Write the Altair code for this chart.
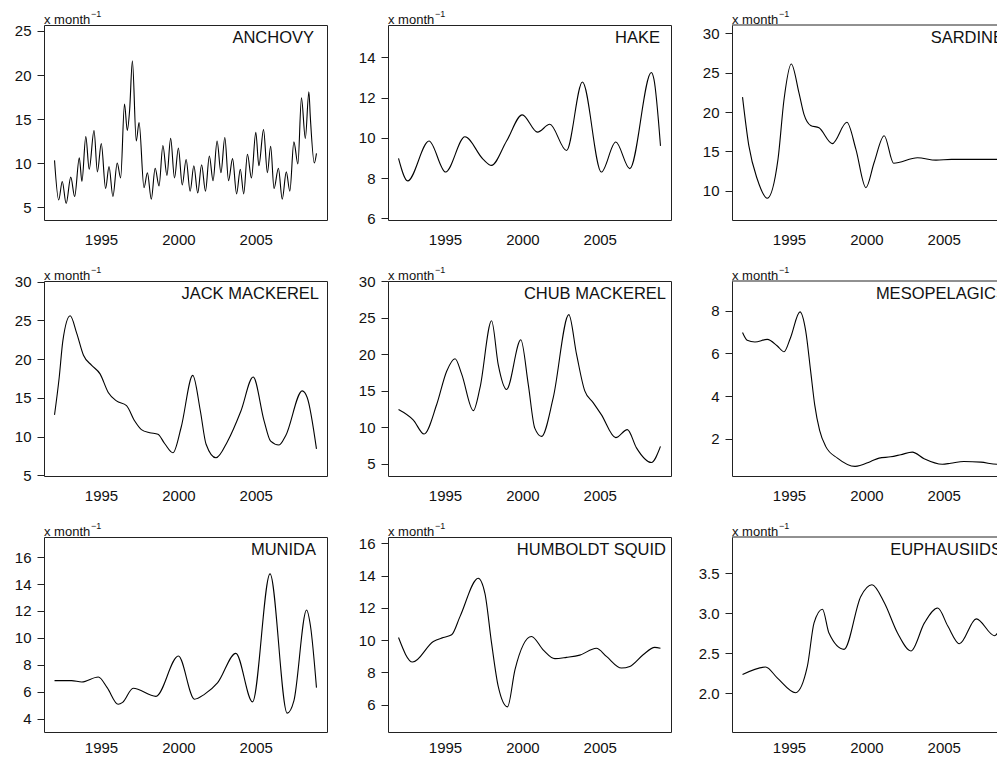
import altair as alt
import pandas as pd

FONT = "Liberation Sans"

# ---------------- data ----------------
anchovy_year = [1992.00, 1992.27, 1992.50, 1992.75, 1993.05, 1993.30, 1993.60, 1993.77, 1994.02, 1994.24,
                1994.55, 1994.77, 1995.02, 1995.30, 1995.52, 1995.77, 1996.05, 1996.27, 1996.52, 1996.70,
                1996.85, 1997.03, 1997.28, 1997.46, 1997.78, 1998.00, 1998.25, 1998.50, 1998.75, 1999.00,
                1999.26, 1999.50, 1999.75, 2000.00, 2000.25, 2000.50, 2000.76, 2001.00, 2001.25, 2001.50,
                2001.75, 2002.00, 2002.24, 2002.50, 2002.75, 2003.00, 2003.24, 2003.50, 2003.76, 2004.00,
                2004.22, 2004.46, 2004.72, 2005.00, 2005.20, 2005.50, 2005.75, 2005.96, 2006.18, 2006.46,
                2006.71, 2006.97, 2007.20, 2007.46, 2007.72, 2007.95, 2008.20, 2008.43, 2008.52, 2008.78,
                2008.92]
anchovy_val = [10.3, 5.8, 7.9, 5.4, 8.4, 6.2, 10.6, 7.9, 13.0, 9.3,
               13.7, 9.0, 12.2, 7.1, 9.6, 6.2, 10.0, 8.3, 16.7, 13.7,
               16.0, 21.6, 12.5, 14.6, 7.2, 8.9, 5.9, 9.4, 7.4, 12.0,
               8.6, 12.8, 8.3, 11.7, 7.5, 10.4, 6.8, 9.7, 6.6, 9.8,
               6.8, 10.8, 8.0, 12.5, 8.9, 12.9, 8.0, 10.5, 6.5, 9.3,
               6.5, 11.0, 8.3, 13.5, 9.7, 13.8, 8.9, 11.9, 7.1, 9.4,
               5.9, 9.0, 6.8, 12.4, 9.9, 17.4, 12.8, 18.1, 15.3, 10.0,
               11.1]

hake_year = [1992.00, 1992.59, 1993.97, 1995.04, 1996.29, 1997.47, 1998.00, 1998.98, 1999.99, 2000.98,
             2001.77, 2002.85, 2003.88, 2005.10, 2006.03, 2006.94, 2008.33, 2008.50, 2008.92]
hake_val = [8.98, 7.86, 9.84, 8.30, 10.05, 8.93, 8.63, 9.84, 11.14, 10.28,
            10.67, 9.37, 12.77, 8.30, 9.79, 8.47, 13.24, 12.90, 9.60]

sardine_year = [1992.00, 1992.41, 1992.95, 1993.60, 1994.29, 1994.68, 1995.15, 1995.65, 1995.97, 1996.40,
                1996.94, 1997.80, 1998.74, 1999.32, 1999.97, 2000.50, 2001.15, 2001.76, 2003.30, 2004.50,
                2005.50, 2008.92]
sardine_val = [21.9, 15.7, 11.5, 9.07, 14.0, 21.6, 26.1, 22.4, 19.7, 18.3,
               18.0, 16.0, 18.7, 15.3, 10.4, 13.6, 17.0, 13.5, 14.2, 13.9,
               14.0, 14.0]

jack_year = [1992.00, 1992.30, 1992.54, 1993.01, 1993.44, 1993.87, 1994.40, 1994.94, 1995.47, 1996.00,
             1996.65, 1997.18, 1997.61, 1998.15, 1998.68, 1999.11, 1999.65, 2000.18, 2000.93, 2001.42,
             2001.79, 2002.43, 2003.18, 2004.04, 2004.83, 2005.54, 2005.96, 2006.50, 2006.93, 2008.00,
             2008.32, 2008.92]
jack_val = [12.8, 17.6, 22.4, 25.6, 23.3, 20.5, 19.2, 18.1, 15.7, 14.6,
            14.0, 12.0, 10.9, 10.5, 10.3, 9.1, 7.9, 11.2, 17.9, 13.3,
            9.0, 7.25, 9.4, 13.3, 17.7, 12.0, 9.4, 8.9, 10.1, 15.9,
            15.05, 8.4]

chub_year = [1992.00, 1992.96, 1993.65, 1994.46, 1995.11, 1995.65, 1996.08, 1996.83, 1997.26, 1998.01,
             1998.44, 1998.98, 1999.90, 2000.38, 2000.80, 2001.24, 2001.99, 2003.00, 2003.50, 2004.03,
             2004.57, 2005.10, 2006.03, 2006.78, 2007.37, 2008.33, 2008.92]
chub_val = [12.45, 11.0, 9.1, 13.1, 17.7, 19.4, 17.3, 12.3, 15.4, 24.6,
            18.6, 15.2, 22.0, 15.9, 9.9, 8.77, 14.05, 25.45, 20.0, 15.0,
            13.4, 11.75, 8.6, 9.7, 7.2, 5.2, 7.4]

meso_year = [1992.00, 1992.30, 1992.80, 1993.60, 1994.25, 1994.68, 1995.10, 1995.71, 1996.08, 1996.40,
             1996.66, 1996.98, 1997.37, 1998.13, 1999.27, 2000.28, 2000.82, 2001.57, 2002.22, 2002.97,
             2003.73, 2004.91, 2005.45, 2006.30, 2007.39, 2008.47, 2008.92]
meso_val = [6.98, 6.62, 6.54, 6.66, 6.35, 6.08, 6.74, 7.95, 7.06, 5.17,
            3.60, 2.39, 1.64, 1.09, 0.70, 0.93, 1.09, 1.15, 1.25, 1.37,
            1.06, 0.80, 0.85, 0.93, 0.90, 0.80, 0.88]

munida_year = [1992.00, 1993.10, 1993.76, 1994.83, 1995.40, 1996.11, 1996.40, 1997.08, 1998.55, 2000.00,
               2001.04, 2001.68, 2002.54, 2003.71, 2004.79, 2005.92, 2007.03, 2007.46, 2008.28, 2008.53,
               2008.92]
munida_val = [6.82, 6.82, 6.72, 7.09, 6.30, 5.06, 5.20, 6.25, 5.65, 8.65,
              5.44, 5.80, 6.67, 8.85, 5.24, 14.76, 4.40, 5.31, 12.07, 10.90,
              6.30]

squid_year = [1992.00, 1992.91, 1994.25, 1994.89, 1995.43, 1995.97, 1997.15, 1997.58, 1998.01, 1998.44,
              1999.04, 1999.52, 2000.59, 2001.34, 2002.10, 2002.85, 2003.71, 2004.78, 2005.43, 2006.40,
              2006.94, 2007.80, 2008.55, 2008.92]
squid_val = [10.16, 8.64, 9.92, 10.16, 10.33, 11.46, 13.84, 12.90, 9.81, 7.13,
             5.86, 8.16, 10.23, 9.40, 8.85, 8.93, 9.07, 9.50, 8.99, 8.27,
             8.37, 9.09, 9.55, 9.50]

euph_year = [1992.00, 1993.49, 1994.24, 1995.43, 1996.19, 1996.62, 1997.16, 1997.59, 1998.56, 1999.64,
             2000.36, 2001.16, 2002.02, 2002.88, 2003.75, 2004.61, 2005.26, 2006.01, 2007.10, 2008.28,
             2008.92]
euph_val = [2.236, 2.33, 2.195, 2.01, 2.34, 2.88, 3.05, 2.75, 2.55, 3.21,
            3.355, 3.13, 2.75, 2.53, 2.88, 3.065, 2.84, 2.62, 2.93, 2.72,
            2.97]

names = ["ANCHOVY", "HAKE", "SARDINE", "JACK MACKEREL", "CHUB MACKEREL", "MESOPELAGICS",
         "MUNIDA", "HUMBOLDT SQUID", "EUPHAUSIIDS"]
series = [(anchovy_year, anchovy_val), (hake_year, hake_val), (sardine_year, sardine_val),
          (jack_year, jack_val), (chub_year, chub_val), (meso_year, meso_val),
          (munida_year, munida_val), (squid_year, squid_val), (euph_year, euph_val)]
y_domains = [[3.53, 25.68], [5.92, 15.6], [6.3, 31.05],
             [4.9, 30.1], [3.35, 30.05], [0.25, 9.4],
             [3.0, 17.5], [4.3, 16.4], [1.52, 3.95]]
y_ticks = [[5, 10, 15, 20, 25], [6, 8, 10, 12, 14], [10, 15, 20, 25, 30],
           [5, 10, 15, 20, 25, 30], [5, 10, 15, 20, 25, 30], [2, 4, 6, 8],
           [4, 6, 8, 10, 12, 14, 16], [6, 8, 10, 12, 14, 16], [2.0, 2.5, 3.0, 3.5]]
y_formats = ["d"] * 8 + [".1f"]
x_ticks = [1995, 2000, 2005]
x_start, x_end = 1991.32, 2009.6

# ---------------- layout / style ----------------
W, H = 283, 195
W_CUT = 273                      # right column is cut by the picture edge
label_inset = [13, 11, 11, 8, 5, 8, 11, 5, 13]
INK = "#111"
EDGE = "#222"


def panel(i):
    name = names[i]
    years, vals = series[i]
    last_col = (i % 3 == 2)
    bottom_row = (i >= 6)
    w = W_CUT if last_col else W
    x_hi = x_start + (x_end - x_start) * w / W
    df = pd.DataFrame({"year": years, "value": vals})
    line = alt.Chart(df).mark_line(color="black", strokeWidth=1.1, interpolate="monotone").encode(
        x=alt.X("year:Q",
                scale=alt.Scale(domain=[x_start, x_hi], nice=False, zero=False),
                axis=alt.Axis(values=x_ticks, format="d", ticks=False, tickSize=0,
                              domain=last_col, domainColor=EDGE,
                              grid=False, labelPadding=8 if bottom_row else 12, title=None)),
        y=alt.Y("value:Q",
                scale=alt.Scale(domain=y_domains[i], nice=False, zero=False),
                axis=alt.Axis(values=y_ticks[i], format=y_formats[i], grid=False,
                              domain=last_col, domainColor=EDGE,
                              tickSize=7, labelPadding=6, title=None)),
    )
    lab = alt.Chart(pd.DataFrame({"t": [name]})).mark_text(
        align="right", baseline="alphabetic", fontSize=16.5, font=FONT, color=INK, clip=True
    ).encode(text="t:N", x=alt.value(W - label_inset[i]), y=alt.value(18))
    unit = alt.Chart(pd.DataFrame({"t": ["x month"]})).mark_text(
        align="left", baseline="alphabetic", fontSize=13, font=FONT, color=INK
    ).encode(text="t:N", x=alt.value(0), y=alt.value(-1))
    sup = alt.Chart(pd.DataFrame({"t": ["\u22121"]})).mark_text(
        align="left", baseline="alphabetic", fontSize=9, font=FONT, color=INK
    ).encode(text="t:N", x=alt.value(47), y=alt.value(-8))
    layers = [line, lab, unit, sup]
    props = dict(width=w, height=H)
    if last_col:
        top = alt.Chart(pd.DataFrame({"t": [0]})).mark_rule(color=EDGE, strokeWidth=1).encode(
            x=alt.value(0), x2=alt.value(w), y=alt.value(0))
        layers.append(top)
        props["view"] = alt.ViewBackground(strokeWidth=0)
    return alt.layer(*layers).properties(**props)


panels = [panel(i) for i in range(9)]

chart = alt.concat(*panels, columns=3, spacing=61, bounds="flush", align="none").properties(
    padding={"left": 5, "top": 1, "right": -10, "bottom": -2}
).configure_view(
    stroke=EDGE, strokeWidth=1
).configure_axis(
    labelFont=FONT, labelFontSize=15, labelColor=INK, tickColor=EDGE
)

chart.save("out.html", embed_options={"renderer": "svg", "actions": False})
